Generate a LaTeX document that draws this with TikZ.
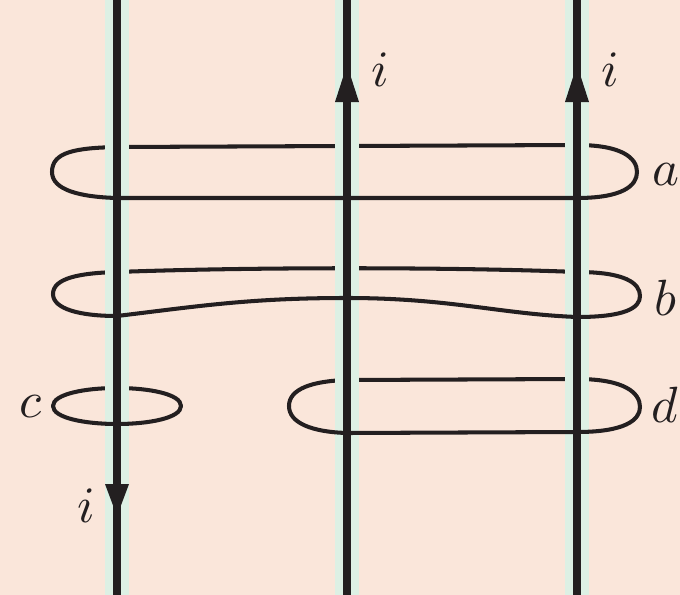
\documentclass[tikz,border=0pt]{standalone}
\usepackage{graphicx}
\definecolor{peach}{HTML}{FAE6DA}
\definecolor{mint}{HTML}{DDF0E4}
\definecolor{ink}{HTML}{231F20}
\newcommand{\biglbl}[1]{\scalebox{2.9}{$#1$}}
\tikzset{
	wire/.style={line width=4.4pt, ink},
	band/.style={line width=13.5pt, mint},
	loopline/.style={line width=2.3pt, ink, line cap=round},
	lbl/.style={inner sep=0pt, text=ink}
}
\begin{document}
\begin{tikzpicture}[x=0.02cm, y=-0.02cm]
	\fill[peach] (0,0) rectangle (680,595); % nền
	\useasboundingbox (0,0) rectangle (680,595);
	% nửa sau của các vòng
	\draw[loopline] (52,172) .. controls (52,152) and (75,148) .. (117,147) -- (577,145) .. controls (622,145) and (637,158) .. (637,172); % vòng a
	\draw[loopline] (53,294) .. controls (53,278) and (80,273) .. (117,272) .. controls (250,267) and (450,267) .. (577,272) .. controls (625,272) and (640,283) .. (640,296); % vòng b
	\draw[loopline] (53,406) .. controls (53,394) and (85,388) .. (117,388) .. controls (149,388) and (181,394) .. (181,406); % vòng c
	\draw[loopline] (289,406) .. controls (289,389) and (312,381) .. (347,380) -- (577,379) .. controls (625,379) and (640,393) .. (640,407); % vòng d
	% các dây dẫn
	\foreach \x/\n in {117/w1,347/w2,577/w3}{
		\coordinate (\n t) at (\x,0);
		\coordinate (\n b) at (\x,595);
		\draw[band] (\n t) -- (\n b);
		\draw[wire] (\n t) -- (\n b);
	}
	% nửa trước của các vòng
	\draw[loopline] (52,172) .. controls (52,190) and (80,197) .. (117,198) -- (577,198) .. controls (622,198) and (637,186) .. (637,172);
	\draw[loopline] (53,294) .. controls (53,309) and (80,316) .. (117,316) .. controls (200,306) and (250,298) .. (347,298) .. controls (450,298) and (500,314) .. (577,317) .. controls (625,317) and (640,308) .. (640,296);
	\draw[loopline] (53,406) .. controls (53,418) and (85,424) .. (117,424) .. controls (149,424) and (181,418) .. (181,406);
	\draw[loopline] (289,406) .. controls (289,423) and (312,432) .. (347,433) -- (577,432) .. controls (625,432) and (640,420) .. (640,407);
	% mũi tên dòng điện
	\foreach \x in {347,577}{\fill[ink] (\x,65) -- (\x-12,102) -- (\x+12,102) -- cycle;}
	\fill[ink] (117,516) -- (105,484) -- (129,484) -- cycle;
	% nhãn
	\node[lbl] (ia) at (380,70) {\biglbl{i}};
	\node[lbl] (ib) at (610,70) {\biglbl{i}};
	\node[lbl] (ic) at (86,506) {\biglbl{i}};
	\node[lbl] (la) at (666,175) {\biglbl{a}};
	\node[lbl] (lb) at (665,298) {\biglbl{b}};
	\node[lbl] (lc) at (31,407) {\biglbl{c}};
	\node[lbl] (ld) at (665,405) {\biglbl{d}};
\end{tikzpicture}
\end{document}
